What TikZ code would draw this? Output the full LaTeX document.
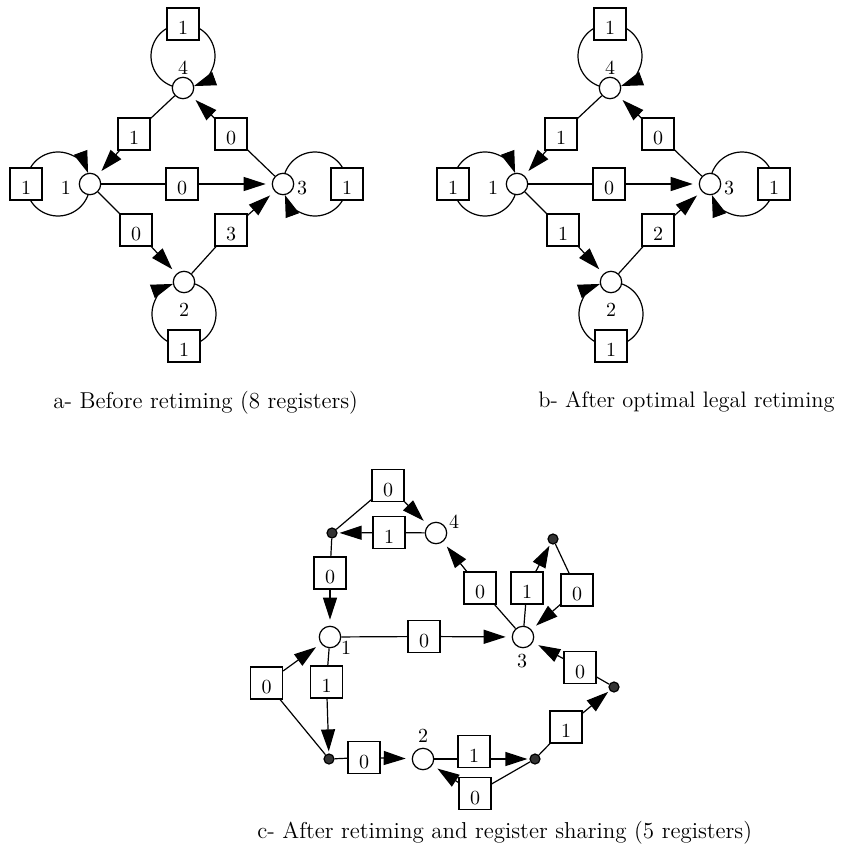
\documentclass[tikz,border=0pt]{standalone}
\usepackage{fontspec}
\usetikzlibrary{arrows.meta}
\begin{document}
\begin{tikzpicture}[x=0.5pt,y=0.5pt]
    \tikzstyle{vertex}=[circle,draw,fill=white,line width=0.6pt,minimum size=10.7pt,inner sep=0pt]
    \tikzstyle{junct}=[circle,draw,fill=black!80,line width=0.6pt,minimum size=5pt,inner sep=0pt]
    \tikzstyle{reg}=[rectangle,draw,fill=white,line width=0.6pt,minimum size=16pt,inner sep=0pt,text height=10.5pt,text depth=0pt]
    \tikzstyle{lbl}=[inner sep=0pt]
    \tikzstyle{capt}=[inner sep=0pt,anchor=base west,font=\fontsize{11.5}{13}\selectfont]
    \tikzstyle{wire}=[line width=0.6pt]
    \tikzstyle{arr}=[wire,-{Triangle[length=11pt,width=7pt]},shorten >=3pt]
    \tikzstyle{tojn}=[arr,shorten >=1pt]
    \tikzstyle{looparr}=[arr,shorten >=0pt]
    \useasboundingbox (0,0) rectangle (845,-846);
    % a- before retiming
    \node[vertex] (a4) at (183,-88) {};
    \node[vertex] (a1) at (90,-184) {};
    \node[vertex] (a3) at (283,-184) {};
    \node[vertex] (a2) at (184,-282) {};
    \node[lbl] (ta4) at (183,-68) {4};
    \node[lbl] (ta1) at (66,-188) {1};
    \node[lbl] (ta3) at (302,-188) {3};
    \node[lbl] (ta2) at (184,-310) {2};
    \draw[looparr] (a4) ++(-10.94,1.93) arc[start angle=250,end angle=-70,radius=16pt];
    \draw[looparr] (a1) ++(-1.93,-10.94) arc[start angle=-20,end angle=-340,radius=16pt];
    \draw[looparr] (a3) ++(1.93,10.94) arc[start angle=160,end angle=-160,radius=16pt];
    \draw[looparr] (a2) ++(10.94,-1.93) arc[start angle=70,end angle=-250,radius=16pt];
    \node[reg] (ra44) at (183,-24) {1};
    \node[reg] (ra11) at (26,-184) {1};
    \node[reg] (ra33) at (347,-184) {1};
    \node[reg] (ra22) at (184,-346) {1};
    \node[reg] (ra41) at (134,-134) {1};
    \node[reg] (ra34) at (231,-134) {0};
    \node[reg] (ra13) at (182,-184) {0};
    \node[reg] (ra12) at (136,-230) {0};
    \node[reg] (ra23) at (231,-230) {3};
    \draw[wire] (a4) -- (ra41); \draw[arr] (ra41) -- (a1);
    \draw[wire] (a3) -- (ra34); \draw[arr] (ra34) -- (a4);
    \draw[wire] (a1) -- (ra13); \draw[arr] (ra13) -- (a3);
    \draw[wire] (a1) -- (ra12); \draw[arr] (ra12) -- (a2);
    \draw[wire] (a2) -- (ra23); \draw[arr] (ra23) -- (a3);
    \node[capt] (capa) at (53,-408) {a- Before retiming (8 registers)};
    % b- after optimal legal retiming
    \node[vertex] (b4) at (610,-88) {};
    \node[vertex] (b1) at (517,-184) {};
    \node[vertex] (b3) at (710,-184) {};
    \node[vertex] (b2) at (611,-282) {};
    \node[lbl] (tb4) at (610,-68) {4};
    \node[lbl] (tb1) at (493,-188) {1};
    \node[lbl] (tb3) at (729,-188) {3};
    \node[lbl] (tb2) at (611,-310) {2};
    \draw[looparr] (b4) ++(-10.94,1.93) arc[start angle=250,end angle=-70,radius=16pt];
    \draw[looparr] (b1) ++(-1.93,-10.94) arc[start angle=-20,end angle=-340,radius=16pt];
    \draw[looparr] (b3) ++(1.93,10.94) arc[start angle=160,end angle=-160,radius=16pt];
    \draw[looparr] (b2) ++(10.94,-1.93) arc[start angle=70,end angle=-250,radius=16pt];
    \node[reg] (rb44) at (610,-24) {1};
    \node[reg] (rb11) at (453,-184) {1};
    \node[reg] (rb33) at (774,-184) {1};
    \node[reg] (rb22) at (611,-346) {1};
    \node[reg] (rb41) at (561,-134) {1};
    \node[reg] (rb34) at (658,-134) {0};
    \node[reg] (rb13) at (609,-184) {0};
    \node[reg] (rb12) at (563,-230) {1};
    \node[reg] (rb23) at (658,-230) {2};
    \draw[wire] (b4) -- (rb41); \draw[arr] (rb41) -- (b1);
    \draw[wire] (b3) -- (rb34); \draw[arr] (rb34) -- (b4);
    \draw[wire] (b1) -- (rb13); \draw[arr] (rb13) -- (b3);
    \draw[wire] (b1) -- (rb12); \draw[arr] (rb12) -- (b2);
    \draw[wire] (b2) -- (rb23); \draw[arr] (rb23) -- (b3);
    \node[capt,font=\fontsize{11.2}{13}\selectfont] (capb) at (538,-407) {b- After optimal legal retiming};
    % c- after retiming and register sharing
    \node[vertex] (c4) at (436,-533) {};
    \node[vertex] (c1) at (330,-637) {};
    \node[vertex] (c3) at (523,-637) {};
    \node[vertex] (c2) at (423,-759) {};
    \node[junct] (j1) at (332,-533) {};
    \node[junct] (j2) at (553,-539) {};
    \node[junct] (j3) at (614,-687) {};
    \node[junct] (j4) at (535,-759) {};
    \node[junct] (j5) at (329,-759) {};
    \node[lbl] (tc4) at (454,-522) {4};
    \node[lbl] (tc1) at (346,-648) {1};
    \node[lbl] (tc3) at (522,-661) {3};
    \node[lbl] (tc2) at (423,-736) {2};
    \node[reg] (rj14) at (388,-485.5) {0};
    \node[reg] (r4j1) at (389,-532.5) {1};
    \node[reg] (rj11) at (330,-573) {0};
    \node[reg] (rc13) at (424,-636.5) {0};
    \node[reg] (rc34) at (480,-588) {0};
    \node[reg] (r3j2) at (527,-588) {1};
    \node[reg] (rj23) at (577,-590) {0};
    \node[reg] (rj33) at (580,-667.5) {0};
    \node[reg] (rj43) at (566,-727) {1};
    \node[reg] (r2j4) at (474,-751.5) {1};
    \node[reg] (rj42) at (475,-793.5) {0};
    \node[reg] (rj52) at (364,-757.5) {0};
    \node[reg] (r1j5) at (326.5,-682) {1};
    \node[reg] (rj51) at (266.5,-683) {0};
    \draw[wire] (j1) -- (rj14); \draw[arr] (rj14) -- (c4);
    \draw[wire] (c4) -- (r4j1); \draw[tojn] (r4j1) -- (j1);
    \draw[wire] (j1) -- (rj11); \draw[arr] (rj11) -- (c1);
    \draw[wire] (c1) -- (rc13); \draw[arr] (rc13) -- (c3);
    \draw[wire] (c3) -- (rc34); \draw[arr] (rc34) -- (c4);
    \draw[wire] (c3) -- (r3j2); \draw[tojn] (r3j2) -- (j2);
    \draw[wire] (j2) -- (rj23); \draw[arr] (rj23) -- (c3);
    \draw[wire] (j3) -- (rj33); \draw[arr] (rj33) -- (c3);
    \draw[wire] (j4) -- (rj43); \draw[tojn] (rj43) -- (j3);
    \draw[wire] (c2) -- (r2j4.west |- c2); \draw[tojn] (r2j4.east |- j4) -- (j4);
    \draw[wire] (j4) -- (rj42); \draw[arr] (rj42) -- (c2);
    \draw[wire] (j5) -- (rj52); \draw[arr] (rj52) -- (c2);
    \draw[wire] (c1) -- (r1j5); \draw[tojn] (r1j5) -- (j5);
    \draw[wire] (j5) -- (rj51); \draw[arr] (rj51) -- (c1);
    \node[capt] (capc) at (257,-838) {c- After retiming and register sharing (5 registers)};
\end{tikzpicture}
\end{document}
